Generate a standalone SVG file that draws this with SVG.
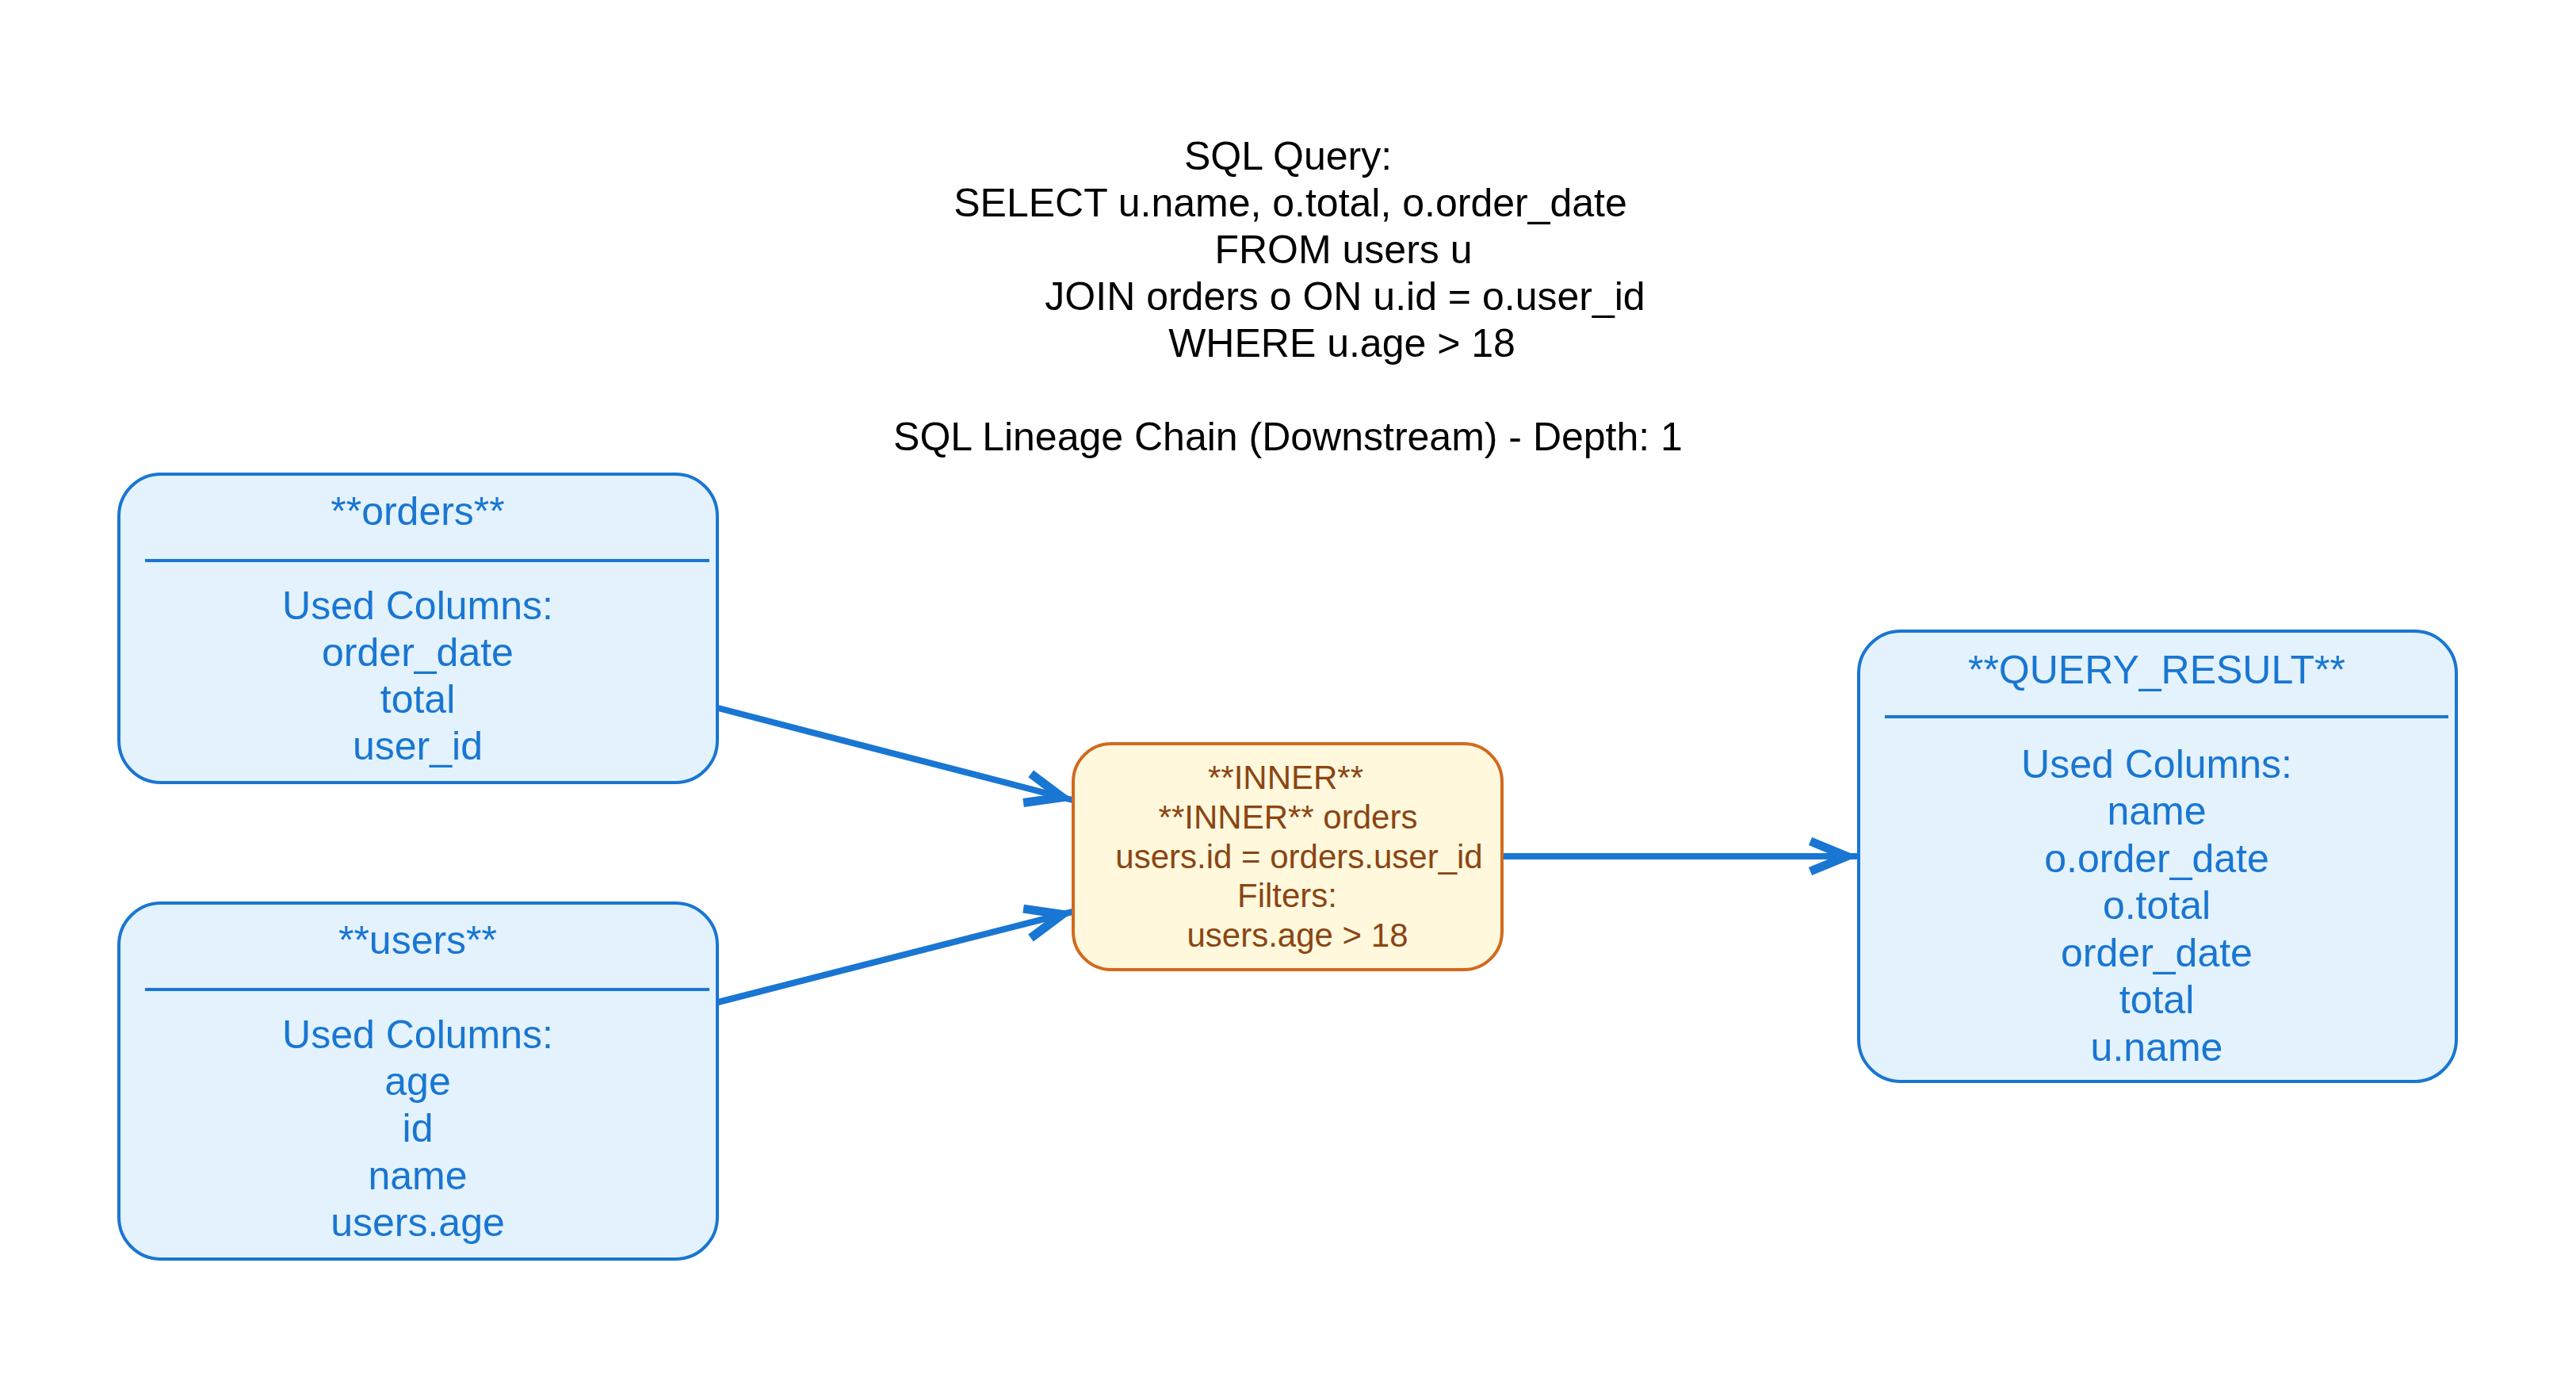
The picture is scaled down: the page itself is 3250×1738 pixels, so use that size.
<svg xmlns="http://www.w3.org/2000/svg" width="3250" height="1738" viewBox="0 0 3250 1738">
<style>
.hdr{font-family:"Liberation Sans",Arial,sans-serif;font-size:50px;fill:#000;text-anchor:middle}
.tb{fill:#e3f2fd;stroke:#1976d2;stroke-width:4}
.tt{font-family:"Liberation Sans",Arial,sans-serif;font-size:50px;fill:#1976d2;text-anchor:middle}
.dv{stroke:#1976d2;stroke-width:4}
.jb{fill:#fff8dc;stroke:#d2691e;stroke-width:4}
.jt{font-family:"Liberation Sans",Arial,sans-serif;font-size:42px;fill:#8b4513;text-anchor:middle}
.edge{stroke:#1976d2;stroke-width:8;fill:none}
</style>
<defs>
<marker id="arr" markerUnits="userSpaceOnUse" markerWidth="90" markerHeight="70" viewBox="-75 -35 90 70" refX="13" refY="0" orient="auto" overflow="visible">
<path d="M-46,-19 L0,0 L-46,19" fill="none" stroke="#1976d2" stroke-width="11"/>
</marker>
</defs>
<rect width="3250" height="1738" fill="#ffffff"/>
<g id="header">
<text class="hdr" x="1625" y="214">SQL Query:</text>
<text class="hdr" x="1628" y="273">SELECT u.name, o.total, o.order_date</text>
<text class="hdr" x="1695" y="332">FROM users u</text>
<text class="hdr" x="1697" y="391">JOIN orders o ON u.id = o.user_id</text>
<text class="hdr" x="1693" y="450">WHERE u.age &gt; 18</text>
<text class="hdr" x="1625" y="568">SQL Lineage Chain (Downstream) - Depth: 1</text>
</g>
<g id="connectors">
<line class="edge" x1="906" y1="893" x2="1353" y2="1009" marker-end="url(#arr)"/>
<line class="edge" x1="906" y1="1264" x2="1353" y2="1150" marker-end="url(#arr)"/>
<line class="edge" x1="1896" y1="1080" x2="2343" y2="1080" marker-end="url(#arr)"/>
</g>
<g id="orders">
<rect class="tb" x="150" y="598" width="755" height="389" rx="53" ry="53"/>
<text class="tt" x="527" y="662">**orders**</text>
<line class="dv" x1="183" y1="707" x2="895" y2="707"/>
<text class="tt" x="527" y="781">Used Columns:</text>
<text class="tt" x="527" y="840">order_date</text>
<text class="tt" x="527" y="899">total</text>
<text class="tt" x="527" y="958">user_id</text>
</g>
<g id="users">
<rect class="tb" x="150" y="1139" width="755" height="449" rx="53" ry="53"/>
<text class="tt" x="527" y="1203">**users**</text>
<line class="dv" x1="183" y1="1248" x2="895" y2="1248"/>
<text class="tt" x="527" y="1322">Used Columns:</text>
<text class="tt" x="527" y="1381">age</text>
<text class="tt" x="527" y="1440">id</text>
<text class="tt" x="527" y="1500">name</text>
<text class="tt" x="527" y="1559">users.age</text>
</g>
<g id="inner_join">
<rect class="jb" x="1354" y="938" width="541" height="285" rx="48" ry="48"/>
<text class="jt" x="1622" y="995">**INNER**</text>
<text class="jt" x="1625" y="1045">**INNER** orders</text>
<text class="jt" x="1639" y="1095">users.id = orders.user_id</text>
<text class="jt" x="1624" y="1144">Filters:</text>
<text class="jt" x="1637" y="1194">users.age &gt; 18</text>
</g>
<g id="query_result">
<rect class="tb" x="2345" y="796" width="754" height="568" rx="53" ry="53"/>
<text class="tt" x="2721" y="862">**QUERY_RESULT**</text>
<line class="dv" x1="2378" y1="904" x2="3089" y2="904"/>
<text class="tt" x="2721" y="981">Used Columns:</text>
<text class="tt" x="2721" y="1040">name</text>
<text class="tt" x="2721" y="1100">o.order_date</text>
<text class="tt" x="2721" y="1159">o.total</text>
<text class="tt" x="2721" y="1219">order_date</text>
<text class="tt" x="2721" y="1278">total</text>
<text class="tt" x="2721" y="1338">u.name</text>
</g>
</svg>
